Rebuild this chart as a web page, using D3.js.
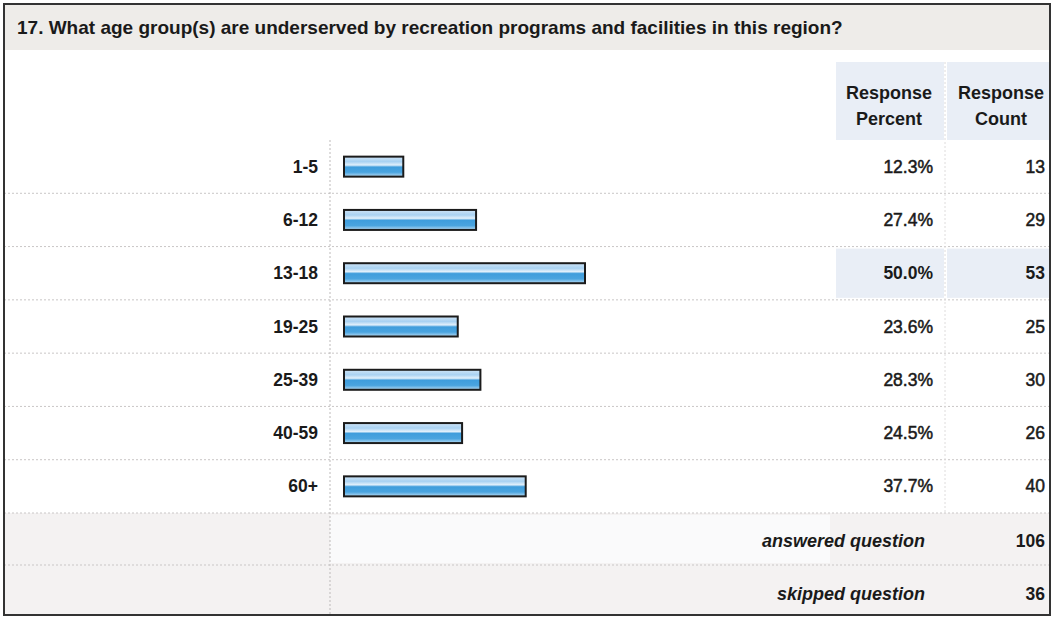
<!DOCTYPE html>
<html lang="en">
<head>
<meta charset="utf-8">
<title></title>
<style>
  body { margin: 0; background: #fff; }
  svg { display: block; font-family: Arial, "Liberation Sans", sans-serif; }
  text { fill: #1a1a1a; font-weight: bold; }
  text.heavy { stroke: #1a1a1a; stroke-width: 0.5px; }
</style>
</head>
<body>
<div id="container"></div>
<script src="https://cdnjs.cloudflare.com/ajax/libs/d3/7.8.5/d3.min.js"></script>
<script>
// values
var title = "17. What age group(s) are underserved by recreation programs and facilities in this region?";
var ageGroups = ["1-5", "6-12", "13-18", "19-25", "25-39", "40-59", "60+"];
var responsePercent = [12.3, 27.4, 50.0, 23.6, 28.3, 24.5, 37.7];
var responseCount = [13, 29, 53, 25, 30, 26, 40];
var footerLabels = ["answered question", "skipped question"];
var footerValues = [106, 36];
var highlighted = "13-18";

var W = 1053, H = 619;
var svg = d3.select("#container").append("svg")
  .attr("width", W).attr("height", H);

var defs = svg.append("defs");
var grad = defs.append("linearGradient").attr("id", "barFill")
  .attr("x1", 0).attr("y1", 0).attr("x2", 0).attr("y2", 1);
[[0, "#cfe4f6"], [0.25, "#a9d2f2"], [0.42, "#e2f0fb"], [0.52, "#3f9ddc"],
 [0.78, "#4aa4df"], [1, "#b9dcf4"]].forEach(function(s) {
  grad.append("stop").attr("offset", s[0]).attr("stop-color", s[1]);
});

// title band
svg.append("rect").attr("x", 4).attr("y", 4).attr("width", 1046).attr("height", 46)
  .attr("fill", "#eeece9");
svg.append("text").attr("x", 17).attr("y", 34)
  .style("font-size", "19px").text(title);

// header cells
svg.append("rect").attr("x", 836).attr("y", 62).attr("width", 108).attr("height", 78).attr("fill", "#e9eef6");
svg.append("rect").attr("x", 947).attr("y", 62).attr("width", 103).attr("height", 78).attr("fill", "#e9eef6");
[["Response", "Percent", 889], ["Response", "Count", 1001]].forEach(function(h) {
  var t = svg.append("text").attr("text-anchor", "middle").style("font-size", "18px");
  t.append("tspan").attr("x", h[2]).attr("y", 99).text(h[0]);
  t.append("tspan").attr("x", h[2]).attr("y", 125).text(h[1]);
});

var y = d3.scaleBand().domain(ageGroups).range([140, 513]);
var x = d3.scaleLinear().domain([0, 100]).range([344, 826]);

var rows = ageGroups.map(function(g, i) {
  return { group: g, pct: responsePercent[i], count: responseCount[i] };
});

// highlight row cells
var hl = rows.filter(function(d) { return d.group === highlighted; });
svg.selectAll("rect.hl1").data(hl).enter().append("rect")
  .attr("x", 836).attr("y", function(d) { return y(d.group) + 2; })
  .attr("width", 108).attr("height", y.bandwidth() - 4).attr("fill", "#e9eef6");
svg.selectAll("rect.hl2").data(hl).enter().append("rect")
  .attr("x", 947).attr("y", function(d) { return y(d.group) + 2; })
  .attr("width", 103).attr("height", y.bandwidth() - 4).attr("fill", "#e9eef6");

// footer background
svg.append("rect").attr("x", 4).attr("y", 513).attr("width", 1046).attr("height", 102).attr("fill", "#f4f2f2");
svg.append("rect").attr("x", 330).attr("y", 515).attr("width", 500).attr("height", 48).attr("fill", "#fafafb");

// row separators
var seps = ageGroups.map(function(g) { return y(g) + y.bandwidth(); });
seps.push(565);
svg.selectAll("line.sep").data(seps).enter().append("line")
  .attr("x1", 4).attr("x2", 1050)
  .attr("y1", function(d) { return d; }).attr("y2", function(d) { return d; })
  .attr("stroke", "#c9c6c6").attr("stroke-width", 1).attr("stroke-dasharray", "2,2");
svg.append("line").attr("x1", 330).attr("x2", 330).attr("y1", 140).attr("y2", 615)
  .attr("stroke", "#bdbaba").attr("stroke-dasharray", "2,2");
svg.append("line").attr("x1", 945).attr("x2", 945).attr("y1", 62).attr("y2", 513)
  .attr("stroke", "#dedcdc").attr("stroke-dasharray", "2,2");

// bars
svg.selectAll("rect.bar").data(rows).enter().append("rect")
  .attr("class", "bar")
  .attr("x", x(0))
  .attr("y", function(d) { return y(d.group) + y.bandwidth() / 2 - 10; })
  .attr("width", function(d) { return x(d.pct) - x(0); })
  .attr("height", 20)
  .attr("fill", "url(#barFill)")
  .attr("stroke", "#1b1b1b").attr("stroke-width", 2);

// labels and values
var base = function(d) { return y(d.group) + y.bandwidth() / 2 + 6; };
svg.selectAll("text.lab").data(rows).enter().append("text")
  .attr("x", 318).attr("y", base)
  .attr("text-anchor", "end").style("font-size", "17.5px").text(function(d) { return d.group; });
svg.selectAll("text.pct").data(rows).enter().append("text")
  .attr("class", function(d) { return d.group === highlighted ? "" : "heavy"; })
  .attr("x", 933).attr("y", base)
  .attr("text-anchor", "end").style("font-size", "17.5px")
  .style("font-weight", function(d) { return d.group === highlighted ? "bold" : "normal"; })
  .text(function(d) { return d.pct.toFixed(1) + "%"; });
svg.selectAll("text.cnt").data(rows).enter().append("text")
  .attr("class", function(d) { return d.group === highlighted ? "" : "heavy"; })
  .attr("x", 1045).attr("y", base)
  .attr("text-anchor", "end").style("font-size", "17.5px")
  .style("font-weight", function(d) { return d.group === highlighted ? "bold" : "normal"; })
  .text(function(d) { return d.count; });

// footer rows
var fy = [547, 600];
footerLabels.forEach(function(l, i) {
  svg.append("text").attr("x", 925).attr("y", fy[i]).attr("text-anchor", "end")
    .style("font-size", "18px").style("font-style", "italic").text(l);
  svg.append("text").attr("x", 1045).attr("y", fy[i]).attr("text-anchor", "end")
    .style("font-size", "17.5px").text(footerValues[i]);
});

// outer frame
svg.append("rect").attr("x", 4).attr("y", 4).attr("width", 1046).attr("height", 611)
  .attr("fill", "none").attr("stroke", "#333").attr("stroke-width", 2);
</script>
</body>
</html>
